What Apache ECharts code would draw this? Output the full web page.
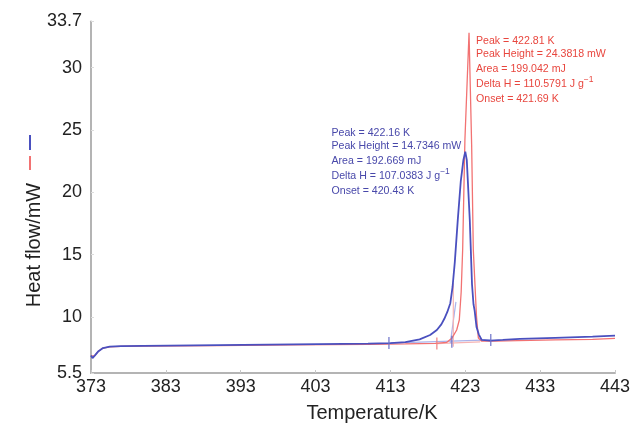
<!DOCTYPE html>
<html>
<head>
<meta charset="utf-8">
<script src="https://cdn.jsdelivr.net/npm/echarts@6/dist/echarts.min.js"></script>
<style>
    html, body { margin: 0; padding: 0; background: #fff; }
    #dsc { width: 637px; height: 425px; }
</style>
</head>
<body>
<div id="dsc"></div>
<script>
// tick labels
var xTicks = [373, 383, 393, 403, 413, 423, 433, 443];
var yTicks = [5.5, 10, 15, 20, 25, 30, 33.7];

// blue trace (sample 1)
var blueT  = [373.0, 373.2, 373.5, 374.0, 374.6, 375.5, 377, 380, 390, 400, 410, 413, 415, 416.9, 418.3, 419.2, 419.8, 420.2, 420.6, 421.0, 421.3, 421.6, 422.0, 422.4, 422.75, 423.0, 423.2, 423.6, 423.9, 424.1, 424.25, 424.5, 424.8, 425.2, 426.3, 428, 430.3, 435, 440, 443];
var blueHF = [6.9, 6.7, 6.9, 7.25, 7.5, 7.62, 7.66, 7.68, 7.73, 7.8, 7.86, 7.9, 7.97, 8.2, 8.55, 8.95, 9.4, 9.85, 10.4, 11.1, 12.4, 14.4, 17.8, 20.9, 22.6, 23.25, 22.6, 17.8, 12.6, 11.0, 10.5, 9.2, 8.6, 8.15, 8.1, 8.15, 8.23, 8.32, 8.42, 8.5];

// red trace (sample 2)
var redT  = [373.0, 373.2, 373.5, 374.0, 374.6, 375.5, 377, 380, 390, 400, 410, 415, 419, 420.5, 421.2, 421.85, 422.2, 422.45, 422.65, 422.95, 423.5, 423.85, 424.07, 424.5, 424.75, 425.2, 427, 430, 435, 440, 443];
var redHF = [6.85, 6.7, 6.9, 7.25, 7.5, 7.6, 7.63, 7.65, 7.7, 7.75, 7.8, 7.83, 7.87, 7.95, 8.28, 8.95, 9.75, 12.0, 15.4, 24.2, 32.8, 23.8, 15.4, 10.0, 8.3, 8.05, 8.05, 8.1, 8.15, 8.2, 8.27];

// integration baselines, limit marks and onset tangents
var blueBaseT = [412.8, 426.4];
var blueBaseHF = [7.9, 8.15];
var redBaseT = [419.2, 425.0];
var redBaseHF = [7.86, 8.0];
var blueMarkT = [412.8, 421.2, 426.4];
var blueMarkHF = [7.9, 8.0, 8.15];
var redMarkT = [419.2];
var redMarkHF = [7.86];
var blueTanT = [421.0, 421.75];
var blueTanHF = [7.9, 11.2];
var redTanT = [421.4, 421.4];
var redTanHF = [7.6, 12.7];

// peak reports
var redNotes = ['Peak = 422.81 K', 'Peak Height = 24.3818 mW', 'Area = 199.042 mJ', 'Delta H = 110.5791 J g', 'Onset = 421.69 K'];
var blueNotes = ['Peak = 422.16 K', 'Peak Height = 14.7346 mW', 'Area = 192.669 mJ', 'Delta H = 107.0383 J g', 'Onset = 420.43 K'];

var BLUE = '#4a50bf';
var RED = '#f27272';
var BLUE_TXT = '#4848aa';
var RED_TXT = '#e8463e';
var FONT = 'Liberation Sans';

function pairs(xs, ys) {
    var out = [];
    for (var i = 0; i < xs.length; i++) {
        out.push([xs[i], ys[i]]);
    }
    return out;
}

function notes(lines, x, ys, color) {
    var els = [];
    for (var i = 0; i < lines.length; i++) {
        var txt = lines[i];
        var rich = {};
        if (txt.indexOf('Delta H') === 0) {
            txt = '{n|' + txt + '}{s|\u22121}';
            rich = {
                n: { fontSize: 10.6, fontFamily: FONT, fill: color, color: color },
                s: { fontSize: 8.5, fontFamily: FONT, fill: color, color: color, padding: [0, 0, 9, 0] }
            };
        }
        els.push({
            type: 'text',
            x: x,
            y: ys[i],
            style: {
                text: txt,
                rich: rich,
                fill: color,
                font: '10.6px "' + FONT + '"',
                verticalAlign: 'middle',
                align: 'left'
            }
        });
    }
    return els;
}

var dscChart = echarts.init(document.getElementById('dsc'));

function Chart() {
    var graphics = [
        {
            type: 'text', x: 34, y: 245, rotation: Math.PI / 2,
            style: { text: 'Heat flow/mW', font: '20px "' + FONT + '"', fill: '#222', align: 'center', verticalAlign: 'middle' }
        },
        {
            type: 'text', x: 372, y: 413,
            style: { text: 'Temperature/K', font: '20px "' + FONT + '"', fill: '#222', align: 'center', verticalAlign: 'middle' }
        },
        { type: 'line', shape: { x1: 30, y1: 135, x2: 30, y2: 150 }, style: { stroke: BLUE, lineWidth: 2 } },
        { type: 'line', shape: { x1: 30, y1: 156, x2: 30, y2: 170 }, style: { stroke: RED, lineWidth: 2 } }
    ];
    graphics = graphics.concat(notes(redNotes, 476, [40.7, 54.3, 68.8, 84.3, 99.5], RED_TXT));
    graphics = graphics.concat(notes(blueNotes, 331.5, [133.3, 145.8, 160.7, 175.8, 191.5], BLUE_TXT));

    var option = {
        animation: false,
        backgroundColor: '#fff',
        grid: { left: 91, right: 22, top: 21.5, bottom: 52 },
        xAxis: {
            type: 'value',
            min: 373,
            max: 443,
            axisLine: { onZero: false, lineStyle: { color: '#b4b4b4', width: 2 } },
            axisTick: { inside: true, length: 3, customValues: xTicks, lineStyle: { color: '#c8c8c8' } },
            axisLabel: { customValues: xTicks, margin: 5, fontSize: 18, fontFamily: FONT, color: '#222' },
            splitLine: { show: false }
        },
        yAxis: {
            type: 'value',
            min: 5.5,
            max: 33.7,
            axisLine: { show: true, lineStyle: { color: '#b4b4b4', width: 2 } },
            axisTick: { show: true, inside: true, length: 3, customValues: yTicks, lineStyle: { color: '#dcdcdc' } },
            axisLabel: { customValues: yTicks, margin: 9, fontSize: 18, fontFamily: FONT, color: '#222' },
            splitLine: { show: false }
        },
        series: [
            { type: 'line', data: pairs(blueBaseT, blueBaseHF), showSymbol: false, lineStyle: { color: '#aab2ea', width: 1.2 }, z: 1 },
            { type: 'line', data: pairs(redBaseT, redBaseHF), showSymbol: false, lineStyle: { color: '#f6b4b4', width: 1.2 }, z: 1 },
            { type: 'line', data: pairs(blueTanT, blueTanHF), showSymbol: false, lineStyle: { color: '#aab2ea', width: 1.2 }, z: 1 },
            { type: 'line', data: pairs(redTanT, redTanHF), showSymbol: false, lineStyle: { color: '#f6b4b4', width: 1.2 }, z: 1 },
            { type: 'line', data: pairs(redT, redHF), showSymbol: false, lineStyle: { color: RED, width: 1.3 }, z: 2 },
            { type: 'line', data: pairs(blueT, blueHF), showSymbol: false, lineStyle: { color: BLUE, width: 1.8 }, z: 3 },
            { type: 'scatter', data: pairs(blueMarkT, blueMarkHF), symbol: 'rect', symbolSize: [1.5, 12], itemStyle: { color: '#6a70c8' }, z: 4 },
            { type: 'scatter', data: pairs(redMarkT, redMarkHF), symbol: 'rect', symbolSize: [1.5, 12], itemStyle: { color: '#f08080' }, z: 4 }
        ],
        graphic: graphics
    };
    dscChart.setOption(option);
}

Chart();
</script>
</body>
</html>
